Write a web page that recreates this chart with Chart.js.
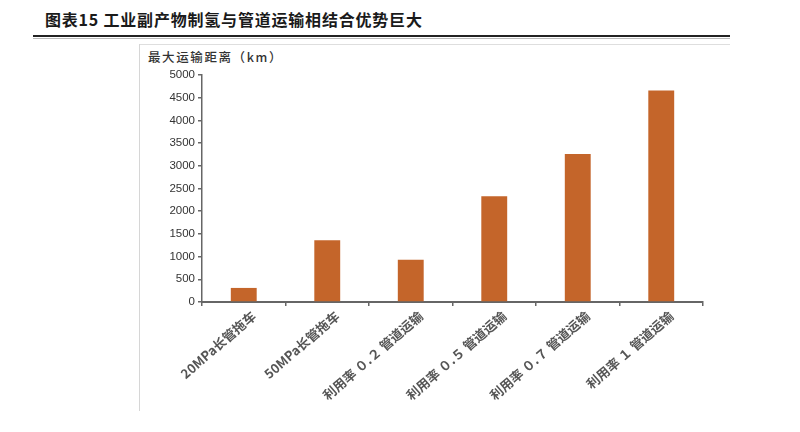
<!DOCTYPE html>
<html>
<head>
<meta charset="utf-8">
<script src="https://cdn.jsdelivr.net/npm/chart.js@4/dist/chart.umd.min.js"></script>
<style>
  html, body { margin: 0; padding: 0; background: #fff; }
  #wrap { position: relative; width: 800px; height: 432px; overflow: hidden; }
  #title {
    position: absolute; left: 45px; top: 7px;
    font-family: "Noto Sans CJK SC", sans-serif; font-weight: 700;
    font-size: 16px; color: #1a1a1a; letter-spacing: 0.8px; white-space: nowrap;
  }
  #rule { position: absolute; left: 33px; top: 35px; width: 697px; height: 2px; background: #222; }
  #rule2 { position: absolute; left: 33px; top: 38px; width: 697px; height: 1px; background: #bbb; }
  #frameTop { position: absolute; left: 139px; top: 44px; width: 591px; height: 1px; background: #dedede; }
  #frameLeft { position: absolute; left: 139px; top: 44px; width: 1px; height: 367px; background: #d6d6d6; }
  #ytitle {
    position: absolute; left: 148px; top: 47px;
    font-family: "Noto Sans CJK SC", sans-serif; font-weight: 500;
    font-size: 12.5px; color: #333; letter-spacing: 1.6px; white-space: nowrap;
  }
  canvas { position: absolute; left: 0; top: 0; }
</style>
</head>
<body>
<div id="wrap">
  <div id="title">图表15 工业副产物制氢与管道运输相结合优势巨大</div>
  <div id="rule"></div>
  <div id="rule2"></div>
  <div id="frameTop"></div>
  <div id="frameLeft"></div>
  <div id="ytitle">最大运输距离（km）</div>
  <canvas id="c" width="800" height="432"></canvas>
</div>
<script>
// Transport modes and their maximum transport distance (km)
const categories = [
  "20MPa长管拖车",
  "50MPa长管拖车",
  "利用率 ０.２ 管道运输",
  "利用率 ０.５ 管道运输",
  "利用率 ０.７ 管道运输",
  "利用率 １ 管道运输"
];
const distances = [310, 1360, 930, 2330, 3260, 4660];
const yMin = 0;
const yMax = 5000;
const yStep = 500;

const axisColor = "#666";

new Chart(document.getElementById("c"), {
  type: "bar",
  data: {
    labels: categories,
    datasets: [{
      data: distances,
      backgroundColor: "#C4652A",
      borderWidth: 0,
      categoryPercentage: 0.31,
      barPercentage: 1.0
    }]
  },
  options: {
    responsive: false,
    animation: false,
    events: [],
    layout: { padding: { left: 138, right: 97, top: 75, bottom: 30 } },
    plugins: { legend: { display: false }, tooltip: { enabled: false } },
    scales: {
      x: {
        grid: {
          offset: true,
          drawOnChartArea: false,
          drawTicks: true,
          tickLength: 4,
          color: axisColor,
          lineWidth: 1.5
        },
        border: { color: axisColor, width: 2 },
        ticks: {
          autoSkip: false,
          minRotation: 41,
          maxRotation: 41,
          padding: 2,
          labelOffset: 10,
          color: "#555",
          font: { family: "'Noto Sans CJK SC', sans-serif", size: 13, weight: "600" }
        },
        afterFit: (s) => { s.height = 100; }
      },
      y: {
        min: yMin,
        max: yMax,
        grid: {
          drawOnChartArea: false,
          drawTicks: true,
          tickLength: 4,
          color: axisColor,
          lineWidth: 1.5
        },
        border: { color: axisColor, width: 1.5 },
        ticks: {
          stepSize: yStep,
          padding: 3,
          color: "#333",
          callback: (v) => String(v),
          font: { family: "'Liberation Sans', Arial, sans-serif", size: 11.5 }
        },
        afterFit: (s) => { s.width = 64; }
      }
    }
  }
});
</script>
</body>
</html>
